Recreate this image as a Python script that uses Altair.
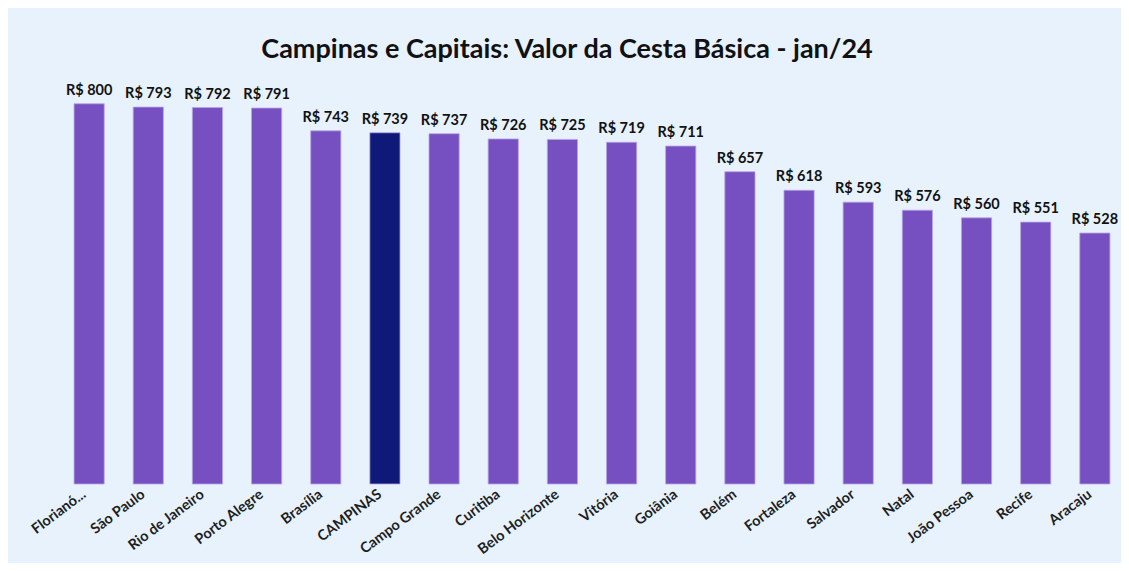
import altair as alt
import pandas as pd

cities = ["Florianó...", "São Paulo", "Rio de Janeiro", "Porto Alegre", "Brasília",
          "CAMPINAS", "Campo Grande", "Curitiba", "Belo Horizonte", "Vitória",
          "Goiânia", "Belém", "Fortaleza", "Salvador", "Natal", "João Pessoa",
          "Recife", "Aracaju"]
values = [800, 793, 792, 791, 743, 739, 737, 726, 725, 719, 711, 657, 618, 593,
          576, 560, 551, 528]
highlight = "CAMPINAS"

df = pd.DataFrame({"cidade": cities, "valor": values})
df["rotulo"] = ["R$ %d" % v for v in values]
df["destaque"] = ["sim" if c == highlight else "nao" for c in cities]

FONT = "Lato"

x = alt.X("cidade:N", sort=None, title=None,
          scale=alt.Scale(paddingInner=0.49, paddingOuter=0.17),
          axis=alt.Axis(labelAngle=-37, labelAlign="right", labelBaseline="top",
                        labelFont=FONT, labelFontSize=14.5, labelFontWeight="bold",
                        labelColor="#1E1E1E", labelPadding=3, labelOffset=-9,
                        labelLimit=300, ticks=False, domain=False, grid=False))
y = alt.Y("valor:Q", title=None, scale=alt.Scale(domain=[0, 850]), axis=None)

bars = alt.Chart(df).mark_bar(stroke="#B9A3E3", strokeWidth=0.8).encode(
    x=x, y=y,
    color=alt.Color("destaque:N", legend=None,
                    scale=alt.Scale(domain=["nao", "sim"], range=["#7650C0", "#0F1A78"])),
)
labels = alt.Chart(df).mark_text(baseline="bottom", dy=-6, font=FONT, fontSize=14.5,
                                 fontWeight="bold", color="#111111").encode(
    x=x, y=y, text="rotulo:N")

chart = (bars + labels).properties(
    width=1056, height=404,
    title=alt.TitleParams("Campinas e Capitais: Valor da Cesta Básica - jan/24",
                          font=FONT, fontSize=27, fontWeight="bold", color="#111111",
                          anchor="middle", dx=-25, offset=16),
    autosize=alt.AutoSizeParams(type="none"),
    padding={"left": 56, "top": 72, "right": 1, "bottom": 79},
    background="#E7F2FD",
).configure_view(stroke=None)

chart.save("out.html", embed_options={"renderer": "svg", "actions": False})
